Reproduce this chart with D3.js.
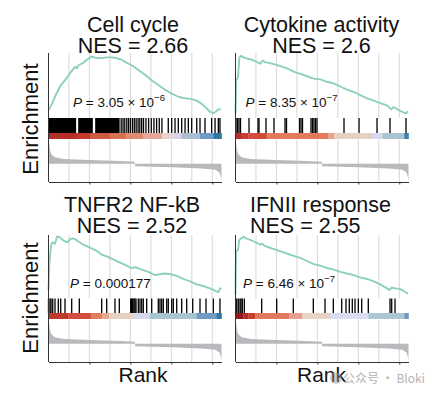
<!DOCTYPE html>
<meta charset="utf-8">
<style>
  body { margin: 0; background: #fff; }
  text { font-family: "Liberation Sans", Arial, sans-serif; fill: #111; }
</style>
<body>
<script src="https://d3js.org/d3.v7.min.js"></script>
<script>

var nRanks = 16900;
var gridRanks = [2000, 4000, 6000, 8000, 10000, 12000, 14000, 16000];
var tickRanks = [4000, 8000, 12000, 16000];

var titles = ["Cell cycle", "Cytokine activity", "TNFR2 NF-kB", "IFNII response"];
var nes = ["2.66", "2.6", "2.52", "2.55"];
var pMant = ["3.05", "8.35", "0.000177", "6.46"];
var pExp = ["\u22126", "\u22127", "", "\u22127"];

// running enrichment score, one pair of arrays per panel
var es1Rank = [0, 312, 635, 1123, 1612, 2100, 2589, 2800, 2914, 3400, 3730, 4220, 4709, 5197, 5686, 6174, 6662, 7151, 7640, 8128, 8780, 9427, 10080, 10730, 11380, 12036, 12680, 13335, 13990, 14478, 14966, 15455, 15777, 16100, 16430, 16590, 16860];
var es1 = [0.00, 0.07, 0.17, 0.30, 0.38, 0.47, 0.55, 0.53, 0.57, 0.60, 0.64, 0.68, 0.66, 0.66, 0.67, 0.67, 0.66, 0.64, 0.60, 0.57, 0.51, 0.45, 0.38, 0.32, 0.26, 0.21, 0.17, 0.15, 0.14, 0.12, 0.08, 0.02, -0.02, -0.04, -0.01, 0.01, 0.01];

var es2Rank = [0, 80, 244, 375, 505, 960, 1612, 2100, 2425, 2657, 2914, 3567, 4376, 5032, 5686, 6330, 6985, 7640, 8284, 8939, 9594, 10238, 10892, 11547, 12191, 12846, 13500, 14145, 14800, 15220, 15455, 15943, 16431, 16656, 16850];
var es2 = [-0.04, 0.38, 0.42, 0.66, 0.69, 0.66, 0.64, 0.61, 0.59, 0.63, 0.61, 0.59, 0.56, 0.53, 0.49, 0.46, 0.43, 0.40, 0.39, 0.36, 0.34, 0.30, 0.26, 0.23, 0.19, 0.15, 0.12, 0.09, 0.06, 0.01, 0.04, 0.00, -0.03, -0.04, -0.015];

var es3Rank = [0, 80, 244, 375, 635, 830, 1026, 1287, 1612, 1872, 2100, 2327, 2589, 2914, 3400, 4054, 4709, 5197, 5686, 6330, 6985, 7640, 8060, 8518, 9105, 9750, 10404, 10892, 11380, 11967, 12524, 13170, 13823, 14478, 15120, 15777, 16265, 16590, 16725, 16850];
var es3 = [0.01, 0.33, 0.58, 0.62, 0.60, 0.69, 0.69, 0.66, 0.63, 0.62, 0.66, 0.67, 0.66, 0.63, 0.59, 0.55, 0.51, 0.46, 0.44, 0.40, 0.36, 0.32, 0.29, 0.30, 0.27, 0.24, 0.20, 0.21, 0.22, 0.21, 0.19, 0.15, 0.12, 0.08, 0.06, 0.03, 0.00, -0.02, 0.02, 0.04];

var es4Rank = [0, 50, 244, 375, 570, 800, 1026, 1450, 1938, 2425, 2589, 2914, 3567, 4054, 4709, 5353, 5842, 6330, 6985, 7640, 8284, 8939, 9594, 10238, 10892, 11547, 12191, 12846, 13500, 14145, 14800, 15025, 15290, 15610, 16100, 16530, 16850];
var es4 = [-0.05, 0.50, 0.52, 0.65, 0.67, 0.69, 0.67, 0.65, 0.62, 0.59, 0.60, 0.57, 0.54, 0.52, 0.49, 0.46, 0.44, 0.42, 0.38, 0.34, 0.32, 0.29, 0.27, 0.24, 0.22, 0.20, 0.17, 0.15, 0.12, 0.08, 0.03, 0.01, 0.04, 0.03, 0.02, -0.01, -0.04];

// gene set hits (ranks); dense runs given as [from, to]
var hits1Blocks = [[0, 2700], [2900, 4330], [4560, 6950]];
var hits1 = [7100, 7280, 7450, 7650, 7820, 8000, 8200, 8380, 8560, 8750, 8920, 9100, 9280, 9520, 9780, 10040, 10300, 10560, 10820, 11080, 11700, 12036, 12360, 12680, 13010, 13340, 13660, 13990, 14480, 14800, 15290, 15940, 16270, 16590, 16750];
var hits2 = [49, 195, 342, 488, 1319, 2198, 2296, 2980, 3761, 4836, 4982, 6253, 6400, 6546, 7376, 7523, 7669, 7816, 7962, 10600, 12066, 13825, 15094, 16657];
var hits3 = [0, 147, 244, 410, 635, 957, 1192, 1612, 2266, 3009, 5197, 5686, 6496, 6917, 8030, 8108, 8186, 8255, 8353, 8450, 8548, 8773, 8939, 9105, 9261, 9593, 10082, 10726, 10892, 11058, 11215, 11547, 11703, 12036, 12192, 12524, 13012, 13501, 14087, 14800, 15386, 16099, 16750];
var hits4 = [117, 273, 440, 537, 664, 860, 2559, 4025, 5647, 7601, 8744, 9555, 10375, 10795, 11117, 11410, 11674, 12000, 12328, 12973, 15094, 15260, 15582];

// colour strip under the hits
var bar1Breaks = [0, 2750, 4050, 6000, 7600, 9260, 11060, 12190, 13010, 14800, 16100, 16900];
var bar1Colors = ["#b42f27", "#c3392c", "#d05a40", "#d8704f", "#dc8a72", "#e4a797", "#ead3c9", "#d6d4ea", "#a9bfd0", "#6e9cc4", "#2c7a9f"];
var bar2Breaks = [0, 600, 1250, 3050, 9070, 9650, 13240, 14380, 16490, 16900];
var bar2Colors = ["#b8302b", "#c63f32", "#d24c3c", "#e47a5b", "#eba08d", "#e8d0c5", "#dad8ed", "#a9c3d3", "#3a80ab"];
var bar3Breaks = [0, 1934, 4123, 5197, 5940, 8284, 9915, 14478, 16431, 16900];
var bar3Colors = ["#c0392f", "#d24d3d", "#e07e60", "#e9a690", "#e7d0c4", "#d6d7ec", "#a8c3d2", "#6f9bc4", "#2f7aa3"];
var bar4Breaks = [0, 762, 1250, 1905, 5226, 6526, 9231, 12973, 16490, 16900];
var bar4Colors = ["#8e1b20", "#b52c28", "#c8412f", "#e07a5d", "#e9a090", "#e8d1c5", "#dcdcf0", "#adc6d4", "#6d9bc5"];

// ranked list metric (same list in every panel)
var metricRank = [0, 60, 150, 300, 600, 1500, 4000, 7000, 8440, 8460, 12000, 15000, 16300, 16700, 16850, 16900];
var metric = [0.95, 0.85, 0.55, 0.38, 0.27, 0.20, 0.16, 0.11, 0.08, -0.10, -0.14, -0.19, -0.25, -0.36, -0.55, -0.70];

var esRanks = [es1Rank, es2Rank, es3Rank, es4Rank];
var esVals = [es1, es2, es3, es4];
var hitBlocks = [hits1Blocks, [], [], []];
var hitLists = [hits1, hits2, hits3, hits4];
var barBreaks = [bar1Breaks, bar2Breaks, bar3Breaks, bar4Breaks];
var barColors = [bar1Colors, bar2Colors, bar3Colors, bar4Colors];

var rows = [
    { axisTop: 53, esTop: 55, hitsTop: 118, barTop: 133, metTop: 139.5, bottom: 182, titleY: 31.5 },
    { axisTop: 235, esTop: 236, hitsTop: 298.5, barTop: 313, metTop: 319.5, bottom: 362, titleY: 211.5 }
];
var panels = [
    { left: 48.5, row: 0, titleX: 133, anchor: "middle", pX: 73, pY: 107 },
    { left: 235.5, row: 0, titleX: 321.5, anchor: "middle", pX: 245.5, pY: 107 },
    { left: 48.5, row: 1, titleX: 132, anchor: "middle", pX: 70, pY: 288 },
    { left: 235.5, row: 1, titleX: 250, anchor: "start", pX: 243, pY: 288 }
];
var panelWidth = 173;

var svg = d3.select("body").append("svg")
    .attr("width", 432)
    .attr("height", 396);

svg.append("rect").attr("width", 432).attr("height", 396).attr("fill", "#fff");

var draw_panel = function (i) {
    var p = panels[i], r = rows[p.row];
    var g = svg.append("g");

    var x = d3.scaleLinear().domain([0, nRanks]).range([p.left, p.left + panelWidth]);
    var y = d3.scaleLinear().domain([-0.1, 0.7]).range([r.hitsTop, r.esTop]);
    var ym = d3.scaleLinear().domain([-0.75, 1]).range([r.bottom, r.metTop]);

    // grid lines
    g.selectAll(".gridTop").data(gridRanks).enter().append("line")
        .attr("x1", x).attr("x2", x)
        .attr("y1", r.axisTop).attr("y2", r.hitsTop)
        .attr("stroke", "#dddddd").attr("stroke-width", 1.2);
    g.selectAll(".gridBot").data(gridRanks).enter().append("line")
        .attr("x1", x).attr("x2", x)
        .attr("y1", r.metTop).attr("y2", r.bottom)
        .attr("stroke", "#dddddd").attr("stroke-width", 1.2);

    // ranked metric
    var area = d3.area()
        .x(function (d) { return x(d[0]); })
        .y0(ym(0))
        .y1(function (d) { return ym(d[1]); });
    g.append("path")
        .datum(d3.zip(metricRank, metric))
        .attr("d", area)
        .attr("fill", "#b9b9bd");

    // colour strip
    var segs = d3.range(barColors[i].length).map(function (k) {
        return { a: barBreaks[i][k], b: barBreaks[i][k + 1], c: barColors[i][k] };
    });
    g.selectAll(".seg").data(segs).enter().append("rect")
        .attr("x", function (d) { return x(d.a); })
        .attr("width", function (d) { return x(d.b) - x(d.a) + 0.3; })
        .attr("y", r.barTop)
        .attr("height", r.metTop - r.barTop - 0.5)
        .attr("fill", function (d) { return d.c; });

    // hits
    g.selectAll(".blk").data(hitBlocks[i]).enter().append("rect")
        .attr("x", function (d) { return x(d[0]); })
        .attr("width", function (d) { return x(d[1]) - x(d[0]); })
        .attr("y", r.hitsTop)
        .attr("height", r.barTop - r.hitsTop)
        .attr("fill", "#000");
    g.selectAll(".hit").data(hitLists[i]).enter().append("line")
        .attr("x1", x).attr("x2", x)
        .attr("y1", r.hitsTop).attr("y2", r.barTop)
        .attr("stroke", "#000").attr("stroke-width", 1.3);

    // enrichment curve
    var line = d3.line()
        .x(function (d) { return x(d[0]); })
        .y(function (d) { return y(d[1]); });
    g.append("path")
        .datum(d3.zip(esRanks[i], esVals[i]))
        .attr("d", line)
        .attr("fill", "none")
        .attr("stroke", "#8dd2b6")
        .attr("stroke-width", 1.9)
        .attr("stroke-linejoin", "round");

    // axes
    g.append("line")
        .attr("x1", p.left).attr("x2", p.left)
        .attr("y1", r.axisTop).attr("y2", r.bottom)
        .attr("stroke", "#333").attr("stroke-width", 1);
    g.append("g")
        .attr("transform", "translate(0," + r.bottom + ")")
        .call(d3.axisBottom(x).tickValues(tickRanks).tickSize(2.5).tickSizeOuter(0).tickFormat(""))
        .call(function (a) { a.selectAll("path, line").attr("stroke", "#333"); });

    // titles
    g.append("text")
        .attr("x", p.titleX).attr("y", r.titleY)
        .attr("text-anchor", p.anchor)
        .style("font-size", "21.5px")
        .text(titles[i]);
    g.append("text")
        .attr("x", p.titleX).attr("y", r.titleY + 21)
        .attr("text-anchor", p.anchor)
        .style("font-size", "21.5px")
        .text("NES = " + nes[i]);

    // p value
    var t = g.append("text")
        .attr("x", p.pX).attr("y", p.pY)
        .style("font-size", "13.5px");
    t.append("tspan").style("font-style", "italic").text("P");
    t.append("tspan").text(pExp[i] ? " = " + pMant[i] + " \u00d7 10" : " = " + pMant[i]);
    if (pExp[i]) {
        t.append("tspan").attr("dy", -6).style("font-size", "9.5px").text(pExp[i]);
    }
};

d3.range(4).forEach(draw_panel);

// axis labels
[119, 298].forEach(function (cy) {
    svg.append("text")
        .attr("transform", "translate(38," + cy + ") rotate(-90)")
        .attr("text-anchor", "middle")
        .style("font-size", "22px")
        .text("Enrichment");
});
[143, 321.5].forEach(function (cx) {
    svg.append("text")
        .attr("x", cx).attr("y", 381.5)
        .attr("text-anchor", "middle")
        .style("font-size", "21px")
        .text("Rank");
});

// watermark
svg.append("circle")
    .attr("cx", 336).attr("cy", 378).attr("r", 6)
    .attr("fill", "#999").attr("opacity", 0.45);
svg.append("text")
    .attr("x", 343).attr("y", 383)
    .style("font-family", "'Noto Sans CJK SC', sans-serif")
    .style("font-size", "12px")
    .style("fill", "#b4b4b4")
    .text("公众号 · Bloki");

</script>
</body>
